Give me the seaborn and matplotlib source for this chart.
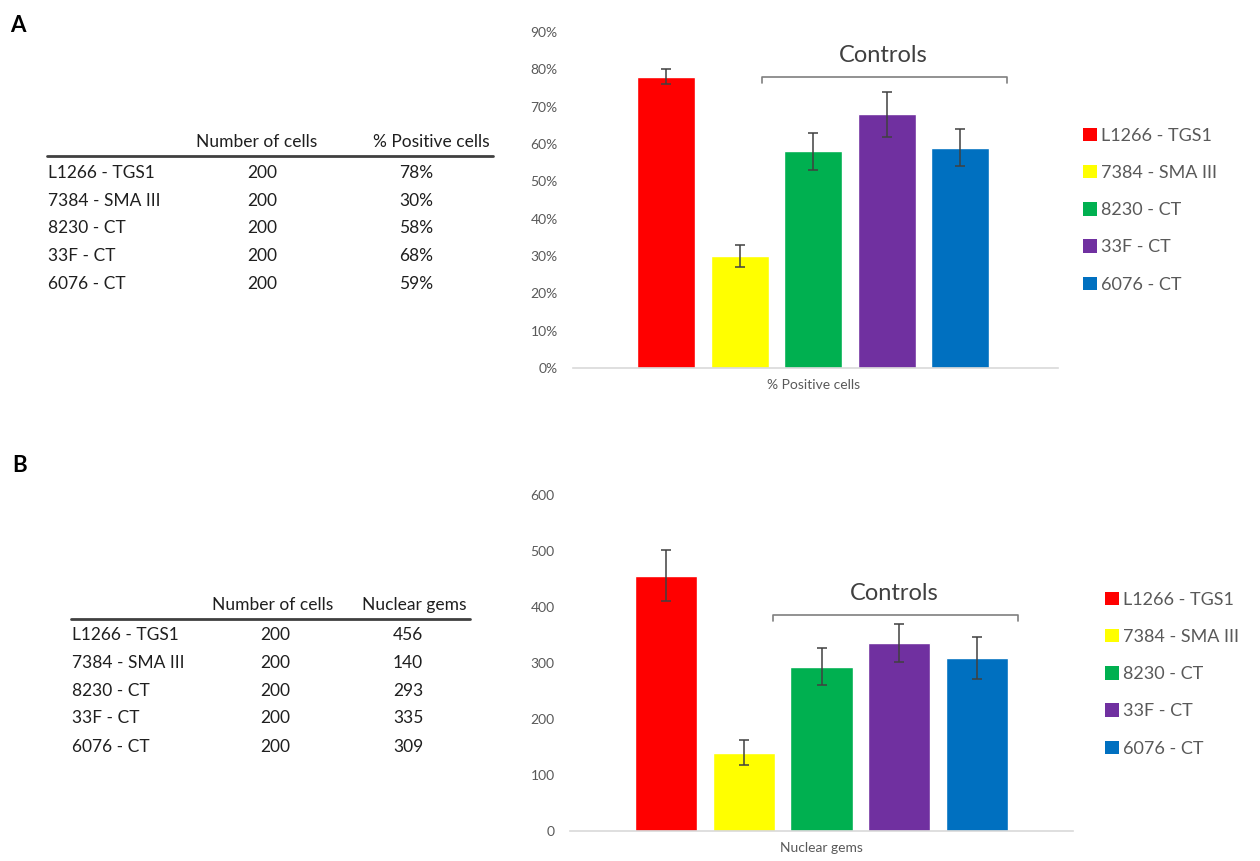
import numpy as np
import pandas as pd
import matplotlib
matplotlib.use("Agg")
import matplotlib.pyplot as plt
from matplotlib.patches import Patch
from matplotlib.lines import Line2D
from matplotlib.ticker import PercentFormatter
import seaborn as sns

# ---------------- data ----------------
samples = ["L1266 - TGS1", "7384 - SMA III", "8230 - CT", "33F - CT", "6076 - CT"]
colors = ["#FF0000", "#FFFF00", "#00B050", "#7030A0", "#0070C0"]
n_cells = [200, 200, 200, 200, 200]
pct_positive = [0.78, 0.30, 0.58, 0.68, 0.59]
pct_err = [0.02, 0.03, 0.05, 0.06, 0.05]
nuclear_gems = [456, 140, 293, 335, 309]
gems_err = [45, 22, 33, 34, 38]
pct_ticks = [0, 0.1, 0.2, 0.3, 0.4, 0.5, 0.6, 0.7, 0.8, 0.9]
gem_ticks = [0, 100, 200, 300, 400, 500, 600]

sns.set_theme(style="white")
plt.rcParams["font.family"] = ["Lato", "DejaVu Sans"]

W, H = 1260, 861
fig = plt.figure(figsize=(W / 100, H / 100), dpi=100)


def fx(px):
    return px / W


def fy(py):
    return 1 - py / H


GRAY = "#595959"
TXT = "#1f1f1f"
palette = dict(zip(samples, colors))


def make_panel(left, right, top_px, bottom_px, cat, values, errs, ymax, ticks,
               width, gap, pct, xlim):
    ax = fig.add_axes([fx(left), fy(bottom_px), fx(right) - fx(left),
                       (bottom_px - top_px) / H])
    df = pd.DataFrame({"cat": [cat] * len(samples), "sample": samples, "value": values})
    sns.barplot(data=df, x="cat", y="value", hue="sample", hue_order=samples,
                palette=palette, width=width, gap=gap, errorbar=None,
                legend=False, ax=ax, saturation=1)
    patches = sorted(ax.patches, key=lambda p: p.get_x())
    xs = [p.get_x() + p.get_width() / 2 for p in patches]
    ax.errorbar(xs, values, yerr=errs, fmt="none", ecolor="#404040",
                elinewidth=1.1, capsize=3.5, capthick=1.1, zorder=5)
    ax.set_ylim(0, ymax)
    ax.set_yticks(ticks)
    if pct:
        ax.yaxis.set_major_formatter(PercentFormatter(1.0, decimals=0))
    ax.set_xlim(*xlim)
    for s in ["top", "right", "left"]:
        ax.spines[s].set_visible(False)
    ax.spines["bottom"].set_color("#D9D9D9")
    ax.spines["bottom"].set_linewidth(1.2)
    ax.tick_params(axis="both", length=0, colors=GRAY, labelsize=10)
    ax.tick_params(axis="y", pad=11)
    ax.tick_params(axis="x", pad=8, labelsize=10)
    ax.set_xlabel("")
    ax.set_ylabel("")
    ax.grid(False)
    return ax


axA = make_panel(573, 1058, 32, 368, "% Positive cells", pct_positive, pct_err,
                 0.9, pct_ticks, 0.758, 0.21, True, (-0.495, 0.505))
axB = make_panel(570, 1073, 495, 831, "Nuclear gems", nuclear_gems, gems_err,
                 600, gem_ticks, 0.771, 0.20, False, (-0.5, 0.5))


# brackets + "Controls"
def bracket(x0, x1, y, ydrop, tx, ty):
    fig.add_artist(Line2D([fx(x0), fx(x0), fx(x1), fx(x1)],
                          [fy(y + ydrop), fy(y), fy(y), fy(y + ydrop)],
                          color="#7F7F7F", lw=1.2))
    fig.text(fx(tx), fy(ty), "Controls", ha="center", va="center",
             fontsize=17, color="#404040")


bracket(762, 1007, 77, 6, 883.5, 55)
bracket(773, 1018, 615, 6, 894.5, 593)

# legends
handles = [Patch(facecolor=c, edgecolor="none", label=s) for s, c in zip(samples, colors)]
for (lx, ly) in [(1083, 128), (1105, 592)]:
    fig.legend(handles=handles, loc="upper left", bbox_to_anchor=(fx(lx), fy(ly)),
               frameon=False, fontsize=13, handlelength=0.75, handleheight=0.75,
               handletextpad=0.25, labelspacing=1.17, labelcolor=GRAY,
               borderaxespad=0, borderpad=0)

# panel letters
fig.text(fx(18), fy(25), "A", fontsize=16, fontweight="bold", ha="center",
         va="center", color="black")
fig.text(fx(20), fy(465), "B", fontsize=16, fontweight="bold", ha="center",
         va="center", color="black")


# tables
def table(x_label, x_c1, x_c2, x_h1, x_h2, y_head, y_line, x_line0, x_line1,
          rows_y, col2_header, col2_values):
    fig.text(fx(x_h1), fy(y_head), "Number of cells", ha="center", va="center",
             fontsize=12.5, color=TXT)
    fig.text(fx(x_h2), fy(y_head), col2_header, ha="center", va="center",
             fontsize=12.5, color=TXT)
    fig.add_artist(Line2D([fx(x_line0), fx(x_line1)], [fy(y_line), fy(y_line)],
                          color="#404040", lw=2))
    for s, n, v, yy in zip(samples, n_cells, col2_values, rows_y):
        fig.text(fx(x_label), fy(yy), s, ha="left", va="center", fontsize=12.5, color=TXT)
        fig.text(fx(x_c1), fy(yy), str(n), ha="center", va="center", fontsize=12.5, color=TXT)
        fig.text(fx(x_c2), fy(yy), v, ha="center", va="center", fontsize=12.5, color=TXT)


table(48, 262, 416, 257, 431, 142, 156, 47, 493, [173, 201, 228, 256, 284],
      "% Positive cells", [f"{round(p * 100)}%" for p in pct_positive])
table(72, 275, 408, 273, 414, 605, 619, 71, 470, [635, 663, 691, 718, 747],
      "Nuclear gems", [str(g) for g in nuclear_gems])

fig.savefig("out.png", dpi=100, facecolor="white")
